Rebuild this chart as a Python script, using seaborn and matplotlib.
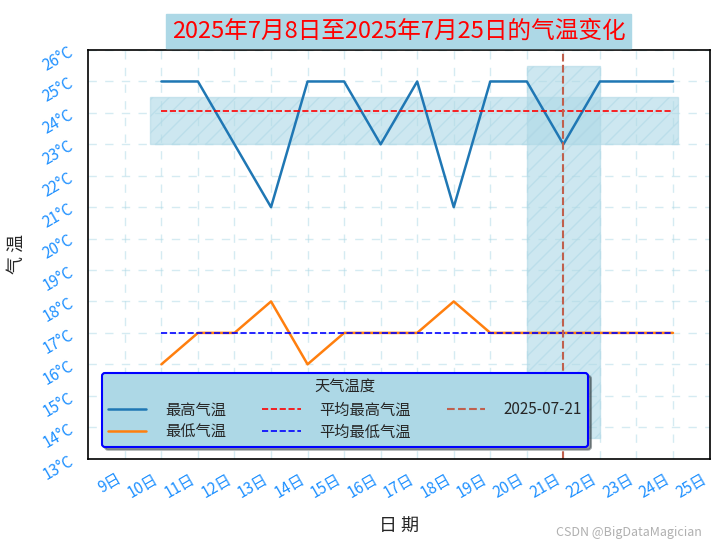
import pandas as pd
import matplotlib.pyplot as plt
import seaborn as sns

# --- Data ---
days = [10, 11, 12, 13, 14, 15, 16, 17, 18, 19, 20, 21, 22, 23, 24]
max_temps = [25, 25, 23, 21, 25, 25, 23, 25, 21, 25, 25, 23, 25, 25, 25]
min_temps = [16, 17, 17, 18, 16, 17, 17, 17, 18, 17, 17, 17, 17, 17, 17]
x_ticks = list(range(9, 26))
x_labels = [f'{d}日' for d in x_ticks]
y_ticks = list(range(13, 27))
y_labels = [f'{t}°C' for t in y_ticks]
marked_day = 21

sns.set_style('white')
plt.rcParams['font.family'] = ['Noto Sans CJK SC', 'DejaVu Sans']
plt.rcParams['axes.unicode_minus'] = False

df = pd.DataFrame({'day': days, '最高气温': max_temps, '最低气温': min_temps})
long_df = df.melt(id_vars='day', var_name='kind', value_name='temp')

fig, ax = plt.subplots(figsize=(7.24, 5.44), dpi=100)

sns.lineplot(data=long_df, x='day', y='temp', hue='kind',
             palette=['#1f77b4', '#ff7f0e'], linewidth=1.8, ax=ax)

avg_max = sum(max_temps) / len(max_temps)
avg_min = sum(min_temps) / len(min_temps)
ax.plot([days[0], days[-1]], [avg_max, avg_max], color='red', ls='--', lw=1.2, label='平均最高气温')
ax.plot([days[0], days[-1]], [avg_min, avg_min], color='blue', ls='--', lw=1.2, label='平均最低气温')
ax.axvline(marked_day, color='#c0604d', ls='--', lw=1.5, label='2025-07-21')

ax.axhspan(23, 24.5, xmin=0.1, xmax=0.95, facecolor='lightblue', alpha=0.6, hatch='//', edgecolor='#b0d8e6')
ax.axvspan(20, 22, ymin=0.05, ymax=0.96, facecolor='lightblue', alpha=0.6, hatch='//', edgecolor='#b0d8e6')

ax.set_xlim(8, 25)
ax.set_ylim(13, 26)
ax.set_xticks(x_ticks)
ax.set_xticklabels(x_labels, rotation=30, ha='right', fontsize=11)
ax.set_yticks(y_ticks)
ax.set_yticklabels(y_labels, rotation=30, fontsize=11)
ax.tick_params(axis='both', direction='out', length=5, width=1.2, colors='black', labelcolor='#1e90ff')
ax.grid(True, color='lightblue', ls=(0, (6, 6)), lw=1, alpha=0.5)
for sp in ax.spines.values():
    sp.set_color('black')
    sp.set_linewidth(1.2)

ax.set_title('2025年7月8日至2025年7月25日的气温变化', color='red', fontsize=17,
             backgroundcolor='lightblue', pad=9)
ax.set_xlabel('日 期', fontsize=13, labelpad=12)
ax.set_ylabel('气 温', fontsize=13, labelpad=10)

handles, labels = ax.get_legend_handles_labels()
order = ['最高气温', '最低气温', '平均最高气温', '平均最低气温', '2025-07-21']
hmap = dict(zip(labels, handles))
leg = ax.legend([hmap[k] for k in order], order, title='天气温度', ncol=3,
                loc='lower left', bbox_to_anchor=(0.01, 0.01), facecolor='lightblue',
                edgecolor='blue', framealpha=1, shadow=True, fancybox=True, fontsize=11,
                title_fontsize=11, columnspacing=2.4, handlelength=2.5, labelspacing=0.35,
                handletextpad=1.2)
leg.get_frame().set_linewidth(1.5)

fig.text(0.97, 0.01, 'CSDN @BigDataMagician', color='#b0b0b0', fontsize=9, ha='right', va='bottom')

plt.subplots_adjust(left=0.122, right=0.98, top=0.908, bottom=0.157)
plt.savefig('out.png', dpi=100)
plt.close()
